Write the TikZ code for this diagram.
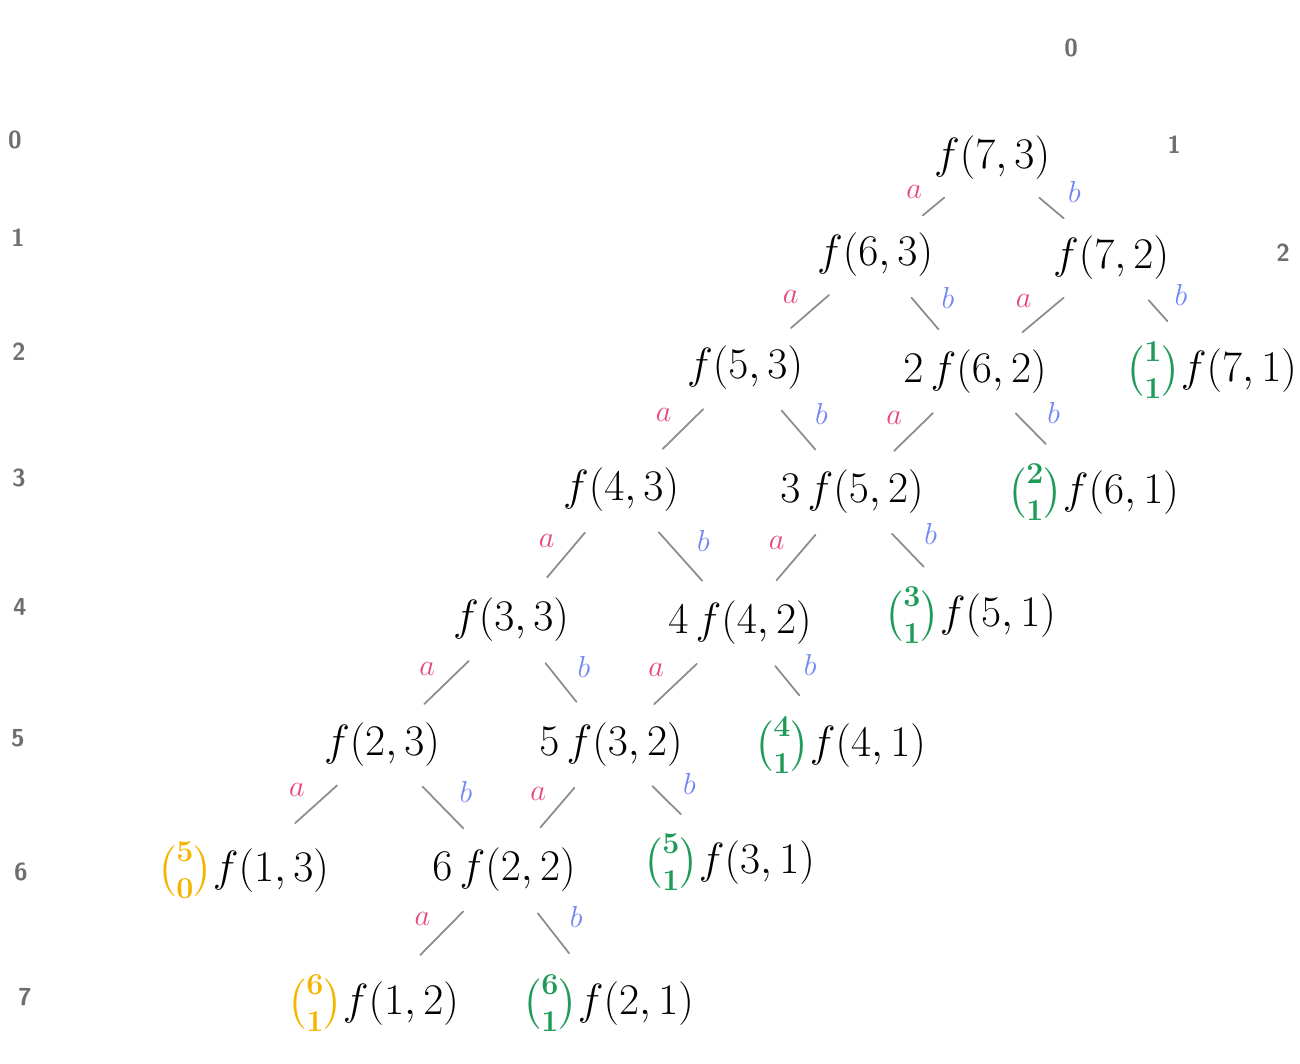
\documentclass[tikz,border=0pt]{standalone}
\usepackage{amsmath}
\usepackage{amssymb}
\usepackage{tikz}

\definecolor{apink}{HTML}{E8457C}
\definecolor{bblue}{HTML}{6F86F4}
\definecolor{bgreen}{HTML}{1E9B57}
\definecolor{borange}{HTML}{F4B400}
\definecolor{linegray}{HTML}{8C8C8C}
\definecolor{idxgray}{HTML}{6E6E6E}

\newcommand{\gbin}[2]{{\color{bgreen}\boldsymbol{\tbinom{#1}{#2}}}}
\newcommand{\obin}[2]{{\color{borange}\boldsymbol{\tbinom{#1}{#2}}}}

\begin{document}
\begin{tikzpicture}[x=0.02cm, y=-0.02cm,
    term/.style={font=\fontsize{24}{28}\selectfont, inner sep=1pt},
    idx/.style={text=idxgray, font=\sffamily\bfseries\fontsize{14}{16}\selectfont},
    link/.style={draw=linegray, line width=1pt, line cap=round,
      shorten <=14pt, shorten >=14pt},
    la/.style={text=apink, font=\fontsize{17}{19}\selectfont, xshift=-11pt, yshift=8pt},
    lb/.style={text=bblue, font=\fontsize{17}{19}\selectfont, xshift=13pt, yshift=9pt}]
  \useasboundingbox (0,0) rectangle (1300,1063);

  % row and column numbers
  \foreach \r/\x/\y in {0/15/140, 1/18/238, 2/19/352, 3/19/478,
                        4/20/607, 5/18/738, 6/21/872, 7/25/997}
    \node[idx] (r\r) at (\x,\y) {\r};
  \node[idx] (c0) at (1071,48) {0};
  \node[idx] (c1) at (1174,145) {1};
  \node[idx] (c2) at (1283,253) {2};

  % terms
  \node[term] (n73) at (992,158) {$f(7,3)$};
  \node[term] (n63) at (875,255) {$f(6,3)$};
  \node[term] (n72) at (1111,258) {$f(7,2)$};
  \node[term] (n53) at (745,368) {$f(5,3)$};
  \node[term] (n62) at (975,372) {$2\,f(6,2)$};
  \node[term] (n71) at (1211,370) {$\gbin{1}{1}f(7,1)$};
  \node[term] (n43) at (621,490) {$f(4,3)$};
  \node[term] (n52) at (852,492) {$3\,f(5,2)$};
  \node[term] (n61) at (1093,492) {$\gbin{2}{1}f(6,1)$};
  \node[term] (n33) at (511,620) {$f(3,3)$};
  \node[term] (n42) at (740,623) {$4\,f(4,2)$};
  \node[term] (n51) at (970,615) {$\gbin{3}{1}f(5,1)$};
  \node[term] (n23) at (382,745) {$f(2,3)$};
  \node[term] (n32) at (611,745) {$5\,f(3,2)$};
  \node[term] (n41) at (840,745) {$\gbin{4}{1}f(4,1)$};
  \node[term] (n13) at (243,870) {$\obin{5}{0}f(1,3)$};
  \node[term] (n22) at (504,870) {$6\,f(2,2)$};
  \node[term] (n31) at (729,862) {$\gbin{5}{1}f(3,1)$};
  \node[term] (n12) at (373,1003) {$\obin{6}{1}f(1,2)$};
  \node[term] (n21) at (608,1003) {$\gbin{6}{1}f(2,1)$};

  % a and b steps
  \foreach \p/\c in {n73/n63, n63/n53, n72/n62, n53/n43, n62/n52,
                     n43/n33, n52/n42, n33/n23, n42/n32, n23/n13,
                     n32/n22, n22/n12}
    \draw[link] (\p) -- node[la] {$a$} (\c);
  \foreach \p/\c in {n73/n72, n63/n62, n72/n71, n53/n52, n62/n61,
                     n43/n42, n52/n51, n33/n32, n42/n41, n23/n22,
                     n32/n31, n22/n21}
    \draw[link] (\p) -- node[lb] {$b$} (\c);
\end{tikzpicture}
\end{document}
